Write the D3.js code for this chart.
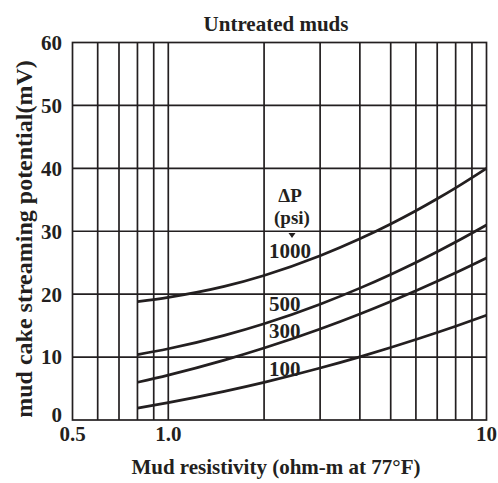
<!DOCTYPE html>
<html>
<head>
<meta charset="utf-8">
<script src="https://cdn.jsdelivr.net/npm/d3@7/dist/d3.min.js"></script>
<style>
  html, body { margin: 0; padding: 0; background: #fff; }
  svg { display: block; }
  text { font-family: "Liberation Serif", "Times New Roman", serif; font-weight: bold; fill: #231f20; }
</style>
</head>
<body>
<div id="chart"></div>
<script>
// Mud resistivity (ohm-m at 77°F) sample points along each curve
const resistivity = [0.8, 1, 1.5, 2, 3, 4, 5, 6, 7, 8, 10];
// Streaming potential (mV) for each differential pressure (psi)
const dp1000 = [18.8, 19.5, 21.24, 22.98, 26.11, 28.8, 31.16, 33.26, 35.16, 36.9, 40.0];
const dp500  = [10.4, 11.32, 13.45, 15.3, 18.41, 20.96, 23.14, 25.04, 26.75, 28.29, 31.0];
const dp300  = [6.0, 7.14, 9.52, 11.44, 14.47, 16.86, 18.85, 20.55, 22.05, 23.4, 25.75];
const dp100  = [1.9, 2.77, 4.56, 5.99, 8.26, 10.04, 11.52, 12.79, 13.9, 14.9, 16.64];
const pressureLabels = ["1000", "500", "300", "100"];

const yTicks = [0, 10, 20, 30, 40, 50, 60];
const xGrid = [0.6, 0.7, 0.8, 0.9, 1, 2, 3, 4, 5, 6, 7, 8, 9];
const xTickLabels = [
  { v: 0.5, t: "0.5" },
  { v: 1, t: "1.0" },
  { v: 10, t: "10" }
];

const W = 498, H = 483;
const ink = "#231f20";

const svg = d3.select("#chart").append("svg")
  .attr("width", W).attr("height", H);

const x = d3.scaleLog().domain([0.5, 10]).range([72.5, 486.5]);
const y = d3.scaleLinear().domain([0, 60]).range([420, 42.5]);

// Grid
const grid = svg.append("g").attr("stroke", ink).attr("stroke-width", 1.7);
grid.selectAll("line.v").data(xGrid).join("line")
  .attr("x1", d => x(d)).attr("x2", d => x(d))
  .attr("y1", y(0)).attr("y2", y(60));
grid.selectAll("line.h").data(yTicks.filter(d => d > 0 && d < 60)).join("line")
  .attr("x1", x(0.5)).attr("x2", x(10))
  .attr("y1", d => y(d)).attr("y2", d => y(d));

// Frame
svg.append("rect")
  .attr("x", x(0.5)).attr("y", y(60))
  .attr("width", x(10) - x(0.5)).attr("height", y(0) - y(60))
  .attr("fill", "none").attr("stroke", ink).attr("stroke-width", 1.7);

// Curves
const series = [dp1000, dp500, dp300, dp100];
const line = d3.line()
  .x((d, i) => x(resistivity[i]))
  .y(d => y(d))
  .curve(d3.curveMonotoneX);
svg.append("g").selectAll("path").data(series).join("path")
  .attr("d", d => line(d))
  .attr("fill", "none").attr("stroke", ink).attr("stroke-width", 2.7);

// Y tick labels
svg.append("g").selectAll("text").data(yTicks).join("text")
  .attr("x", 62).attr("y", d => y(d))
  .attr("dy", d => d === 0 ? "0.1em" : "0.35em")
  .attr("text-anchor", "end")
  .attr("font-size", 21)
  .text(d => d);

// X tick labels
svg.append("g").selectAll("text").data(xTickLabels).join("text")
  .attr("x", d => x(d.v)).attr("y", 441)
  .attr("text-anchor", "middle")
  .attr("font-size", 21)
  .text(d => d.t);

// Title
svg.append("text")
  .attr("x", 276).attr("y", 31)
  .attr("text-anchor", "middle").attr("font-size", 21)
  .text("Untreated muds");

// Axis titles
svg.append("text")
  .attr("x", 276).attr("y", 474)
  .attr("text-anchor", "middle").attr("font-size", 21)
  .text("Mud resistivity (ohm-m at 77°F)");

svg.append("text")
  .attr("transform", "translate(32,239) rotate(-90)")
  .attr("text-anchor", "middle").attr("font-size", 24)
  .text("mud cake streaming potential(mV)");

// Pressure annotation
svg.append("text").attr("x", 290).attr("y", 202)
  .attr("text-anchor", "middle").attr("font-size", 19).text("ΔP");
svg.append("text").attr("x", 292).attr("y", 224)
  .attr("text-anchor", "middle").attr("font-size", 19).text("(psi)");
svg.append("path")
  .attr("d", "M288.5,233 L295.5,233 L292,238 Z")
  .attr("fill", ink);

const labelBase = [258, 311, 338, 376];
svg.append("g").selectAll("text").data(pressureLabels).join("text")
  .attr("x", 269).attr("y", (d, i) => labelBase[i])
  .attr("font-size", 21)
  .text(d => d);
</script>
</body>
</html>
